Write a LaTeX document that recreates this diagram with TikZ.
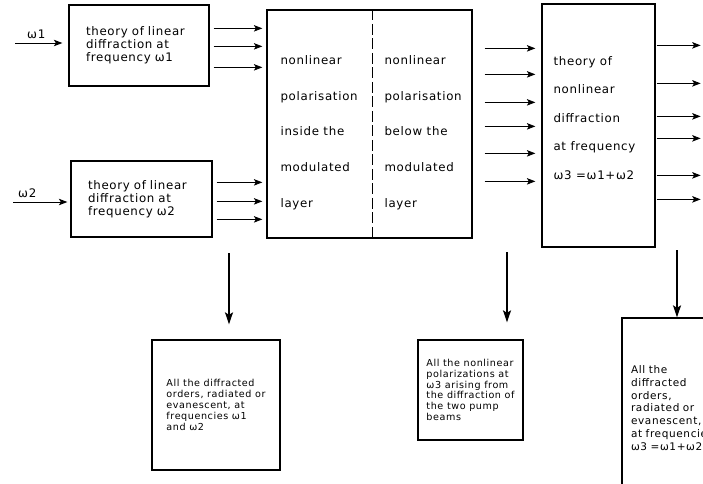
\documentclass[tikz,border=0pt]{standalone}
\usepackage{fontspec}
\setmainfont{DejaVu Sans}[LetterSpace=6]
\usetikzlibrary{positioning,arrows.meta,calc}

\begin{document}
\begin{tikzpicture}[
    x=1pt, y=-1pt,
    box/.style={draw, line width=1.3pt, inner ysep=0pt, align=left},
    toptxt/.style={font=\fontsize{11.8}{13}\selectfont},
    bottxt/.style={font=\fontsize{9.6}{10.8}\selectfont},
    coltxt/.style={inner sep=0pt, align=left, anchor=west},
    arr/.style={-{Stealth[length=8.5pt,width=6.5pt,inset=2pt]}, line width=0.9pt, shorten <=4pt, shorten >=4pt},
    varr/.style={-{Stealth[length=12pt,width=8pt,inset=2.5pt]}, line width=1.6pt},
    lbl/.style={inner sep=0pt, font=\fontsize{11.8}{13}\selectfont}
]
    \useasboundingbox (0,0) rectangle (703,483);
    \clip (0,0) rectangle (703,483);

    % linear diffraction boxes
    \node[box, toptxt, minimum width=140pt, minimum height=81pt, text width=106pt, inner xsep=17pt] (lin1) at (139,45.5)
        {theory of linear\\diffraction at\\frequency ω1};
    \node[box, toptxt, minimum width=141pt, minimum height=76pt, text width=107pt, inner xsep=17pt] (lin2) at (141.5,199)
        {theory of linear\\diffraction at\\frequency ω2};

    % nonlinear polarisation box, split in two
    \node[box, minimum width=205pt, minimum height=228pt] (mid) at (369.5,124) {};
    \draw[line width=1.1pt, dash pattern=on 11pt off 3.5pt] ($(mid.north west)+(106,0)$) -- ($(mid.south west)+(106,0)$);
    \node[coltxt, font=\fontsize{11.8}{35.7}\selectfont] (midL) at ($(mid.west)+(14,8.5)$)
        {nonlinear\\polarisation\\inside the\\modulated\\layer};
    \node[coltxt, font=\fontsize{11.8}{35.7}\selectfont] (midR) at ($(mid.west)+(118,8.5)$)
        {nonlinear\\polarisation\\below the\\modulated\\layer};

    % nonlinear diffraction box
    \node[box, minimum width=113pt, minimum height=243pt] (nld) at (598.5,125.5) {};
    \node[coltxt, font=\fontsize{11.8}{28.5}\selectfont] (nldtxt) at ($(nld.west)+(12,-7.5)$)
        {theory of\\nonlinear\\diffraction\\at frequency\\ω3 =ω1+ω2};

    % result boxes
    \node[box, bottxt, minimum width=128pt, minimum height=130pt] (ordA) at (216,405)
        {All the diffracted\\orders, radiated or\\evanescent, at\\frequencies ω1\\and ω2};
    \node[box, bottxt, minimum width=105pt, minimum height=100pt] (polB) at (470.5,390)
        {All the nonlinear\\polarizations at\\ω3 arising from\\the diffraction of\\the two pump\\beams};
    \node[box, font=\fontsize{10.5}{12.7}\selectfont, minimum width=110pt, minimum height=180pt, text width=92pt, inner xsep=9pt] (ordC) at (677,408)
        {All the\\diffracted\\orders,\\radiated or\\evanescent,\\at frequencies\\ω3 =ω1+ω2};

    % pump inputs
    \coordinate (in1) at (15,43);
    \coordinate (in2) at (13,202);
    \draw[arr, shorten <=0pt, shorten >=6pt] (in1) -- (in1 -| lin1.west);
    \draw[arr, shorten <=0pt, shorten >=3pt] (in2) -- (in2 -| lin2.west);
    \node[lbl, above right=4pt and 12pt of in1] (w1) {ω1};
    \node[lbl, above right=4pt and 5pt of in2] (w2) {ω2};

    % diffracted fields into the layer
    \foreach \dy [count=\i] in {24,42,63} {
        \path ($(lin1.north east)+(0,\dy)$) coordinate (a\i);
        \draw[arr] (a\i) -- (a\i -| mid.west);
    }
    \foreach \dy [count=\i] in {22,41,59} {
        \path ($(lin2.north east)+(0,\dy)$) coordinate (b\i);
        \draw[arr] (b\i) -- (b\i -| mid.west);
    }

    % polarisations into nonlinear diffraction
    \foreach \dy [count=\i] in {39,65,93,117,144,172} {
        \path ($(mid.north east)+(0,\dy)$) coordinate (p\i);
        \draw[arr, shorten <=12pt, shorten >=6pt] (p\i) -- (p\i -| nld.west);
    }

    % outgoing orders at w3
    \foreach \dy [count=\i] in {42,80,113,135,172,196} {
        \path ($(nld.north east)+(0,\dy)$) coordinate (q\i);
        \path (q\i) ++(45,0) coordinate (o\i);
        \draw[arr, shorten <=1pt, shorten >=0pt] (q\i) -- (o\i);
    }

    % downward arrows to the result boxes
    \coordinate (d1) at (229,253);
    \coordinate (d2) at (507,252);
    \coordinate (d3) at (677,250);
    \draw[varr, shorten >=15pt] (d1) -- (d1 |- ordA.north);
    \draw[varr, shorten >=17pt] (d2) -- (d2 |- polB.north);
    \draw[varr] (d3) -- (d3 |- ordC.north);
\end{tikzpicture}
\end{document}
